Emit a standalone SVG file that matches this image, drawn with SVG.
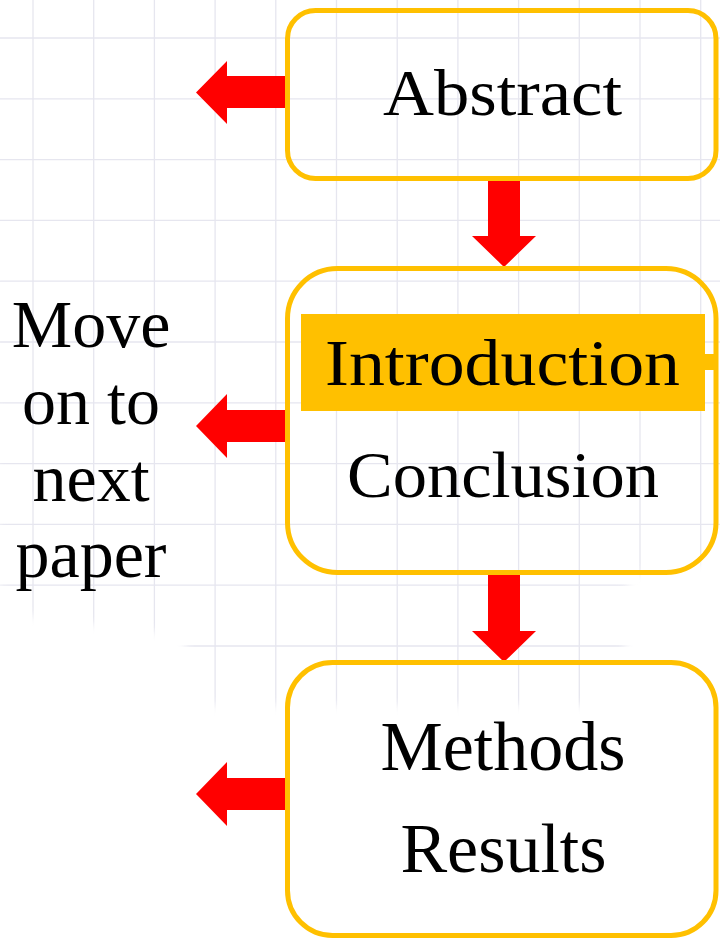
<svg xmlns="http://www.w3.org/2000/svg" width="720" height="938" viewBox="0 0 720 938">
<style>
.box{fill:none;stroke:#FFC000;stroke-width:5}
.arr{fill:#FF0000}
.geo{font-family:"Liberation Serif","DejaVu Serif",serif;font-size:66px;fill:#000;text-anchor:middle}
.tnr{font-family:"Liberation Serif","Times New Roman",serif;font-size:70px;fill:#000;text-anchor:middle}
.side{font-family:"Liberation Serif","Times New Roman",serif;font-size:68px;fill:#000;text-anchor:middle}
.grid line{stroke:#E6E6EF;stroke-width:1.3}
</style>
<defs>
<filter id="soft" x="-10%" y="-10%" width="120%" height="120%"><feGaussianBlur stdDeviation="5"/></filter>
<mask id="gm" maskUnits="userSpaceOnUse" x="0" y="0" width="720" height="938">
<rect x="0" y="0" width="720" height="938" fill="#000"/>
<polygon points="-20,-20 740,-20 740,555 628,575 622,705 186,705 186,636 0,612" fill="#fff" filter="url(#soft)"/>
</mask>
</defs>
<rect x="0" y="0" width="720" height="938" fill="#fff"/>
<g class="grid" mask="url(#gm)">
<line x1="33" y1="0" x2="33" y2="938"/>
<line x1="93.7" y1="0" x2="93.7" y2="938"/>
<line x1="154.4" y1="0" x2="154.4" y2="938"/>
<line x1="215.1" y1="0" x2="215.1" y2="938"/>
<line x1="275.8" y1="0" x2="275.8" y2="938"/>
<line x1="336.5" y1="0" x2="336.5" y2="938"/>
<line x1="397.2" y1="0" x2="397.2" y2="938"/>
<line x1="457.9" y1="0" x2="457.9" y2="938"/>
<line x1="518.6" y1="0" x2="518.6" y2="938"/>
<line x1="579.3" y1="0" x2="579.3" y2="938"/>
<line x1="640" y1="0" x2="640" y2="938"/>
<line x1="700.7" y1="0" x2="700.7" y2="938"/>
<line x1="0" y1="38" x2="720" y2="38"/>
<line x1="0" y1="98.8" x2="720" y2="98.8"/>
<line x1="0" y1="159.6" x2="720" y2="159.6"/>
<line x1="0" y1="220.4" x2="720" y2="220.4"/>
<line x1="0" y1="281.2" x2="720" y2="281.2"/>
<line x1="0" y1="342" x2="720" y2="342"/>
<line x1="0" y1="402.8" x2="720" y2="402.8"/>
<line x1="0" y1="463.6" x2="720" y2="463.6"/>
<line x1="0" y1="524.4" x2="720" y2="524.4"/>
<line x1="0" y1="585.2" x2="720" y2="585.2"/>
<line x1="0" y1="646" x2="720" y2="646"/>
</g>
<g id="connectors">
<polygon class="arr" points="289,76 227,76 227,61 196,92.5 227,124 227,108 289,108"/>
<polygon class="arr" points="289,410 227,410 227,394 196,426 227,458 227,442 289,442"/>
<polygon class="arr" points="289,778 227,778 227,762 196,794 227,826 227,810 289,810"/>
<polygon class="arr" points="488,176 520,176 520,236 536,236 504,267 472,236 488,236"/>
<polygon class="arr" points="488,570 520,570 520,631 536,631 504,662 472,631 488,631"/>
</g>
<g id="abstract">
<rect class="box" x="287.5" y="10.5" width="428.5" height="168" rx="28" ry="28"/>
<text class="geo" x="502.5" y="115" textLength="239" lengthAdjust="spacingAndGlyphs">Abstract</text>
</g>
<g id="intro-conclusion">
<rect class="box" x="287.5" y="268.5" width="428.5" height="304" rx="50" ry="50"/>
<rect x="301" y="314" width="404" height="97" fill="#FFC000"/>
<rect x="704" y="354" width="14" height="16" fill="#FFC000"/>
<text class="geo" x="502.5" y="385" textLength="355" lengthAdjust="spacingAndGlyphs">Introduction</text>
<text class="geo" x="503" y="497" textLength="312" lengthAdjust="spacingAndGlyphs">Conclusion</text>
</g>
<g id="methods-results">
<rect class="box" x="287.5" y="662.5" width="428.5" height="273" rx="45" ry="45"/>
<text class="tnr" x="503" y="770">Methods</text>
<text class="tnr" x="503.5" y="872">Results</text>
</g>
<g id="move-on">
<text class="side" x="91" y="347">Move</text>
<text class="side" x="91" y="424">on to</text>
<text class="side" x="91" y="501">next</text>
<text class="side" x="91" y="577">paper</text>
</g>
</svg>
